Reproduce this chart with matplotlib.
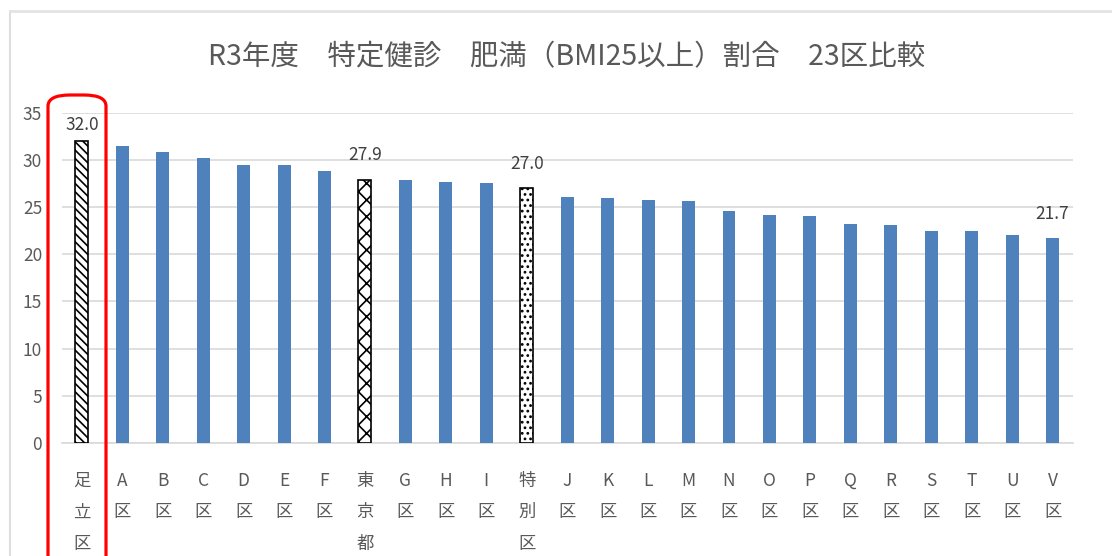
import matplotlib
matplotlib.use("Agg")
import matplotlib.pyplot as plt
from matplotlib.patches import FancyBboxPatch
from matplotlib.lines import Line2D

plt.rcParams['font.family'] = ['Noto Sans CJK JP', 'DejaVu Sans']
plt.rcParams['hatch.linewidth'] = 1.2

title = "R3年度　特定健診　肥満（BMI25以上）割合　23区比較"
labels = ["足\n立\n区", "A\n区", "B\n区", "C\n区", "D\n区", "E\n区", "F\n区",
          "東\n京\n都", "G\n区", "H\n区", "I\n区", "特\n別\n区",
          "J\n区", "K\n区", "L\n区", "M\n区", "N\n区", "O\n区", "P\n区",
          "Q\n区", "R\n区", "S\n区", "T\n区", "U\n区", "V\n区"]
values = [32.0, 31.5, 30.8, 30.2, 29.4, 29.4, 28.8,
          27.9, 27.8, 27.6, 27.5, 27.0,
          26.0, 25.9, 25.7, 25.6, 24.6, 24.1, 24.0,
          23.2, 23.1, 22.5, 22.5, 22.0, 21.7]
# bars that get a hatch instead of the plain fill
hatches = {0: "\\\\\\\\", 7: "xx", 11: "..."}
labelled = [0, 7, 11, 24]

blue = "#4F81BD"
grey = "#595959"

fig = plt.figure(figsize=(11.12, 5.56), dpi=100)
ax = fig.add_axes([61.6 / 1112, 1 - 443 / 556, (1072.8 - 61.6) / 1112, (443 - 112.5) / 556])

x = list(range(len(values)))
bars = ax.bar(x, values, width=0.32, color=blue, zorder=3)
for i, h in hatches.items():
    bars[i].set_facecolor("white")
    bars[i].set_edgecolor("black")
    bars[i].set_linewidth(1.2)
    bars[i].set_hatch(h)

for i in labelled:
    off = 5 if values[i] > 31 else 11
    ax.annotate(f"{values[i]:.1f}", (x[i], values[i]), xytext=(0, off),
                textcoords="offset points", ha="center", va="bottom",
                fontsize=12.5, color="#404040")

ax.set_xlim(-0.5, len(values) - 0.5)
ax.set_ylim(0, 35)
ax.set_yticks(range(0, 36, 5))
ax.set_xticks(x)
ax.set_xticklabels(labels, linespacing=1.95)
ax.tick_params(axis="both", length=0, labelcolor=grey)
ax.tick_params(axis="x", pad=21, labelsize=12.5)
ax.tick_params(axis="y", pad=14, labelsize=12.5)
ax.grid(axis="y", color="#D9D9D9", linewidth=1.2, zorder=0)
ax.set_axisbelow(True)
for s in ["top", "right", "left"]:
    ax.spines[s].set_visible(False)
ax.spines["bottom"].set_color("#D9D9D9")
ax.spines["bottom"].set_linewidth(1.2)

fig.text(567 / 1112, 1 - 57 / 556, title, ha="center", va="center",
         fontsize=20.5, color=grey)

# outer frame of the chart area
fig.add_artist(Line2D([10 / 1112, 10 / 1112], [0, 1 - 12 / 556],
                      transform=fig.transFigure, color="#DDDDDD", linewidth=1.5))
fig.add_artist(Line2D([10 / 1112, 1], [1 - 11 / 556, 1 - 11 / 556],
                      transform=fig.transFigure, color="#E3E3E3", linewidth=2))

# red highlight box round the first category
box = FancyBboxPatch((48 / 1112, -0.05), 58 / 1112, 1.05 - 95 / 556,
                     boxstyle="round,pad=0,rounding_size=0.02",
                     transform=fig.transFigure, fill=False,
                     edgecolor="#FF0000", linewidth=2.3, zorder=10)
fig.add_artist(box)

fig.savefig("out.png", dpi=100)
